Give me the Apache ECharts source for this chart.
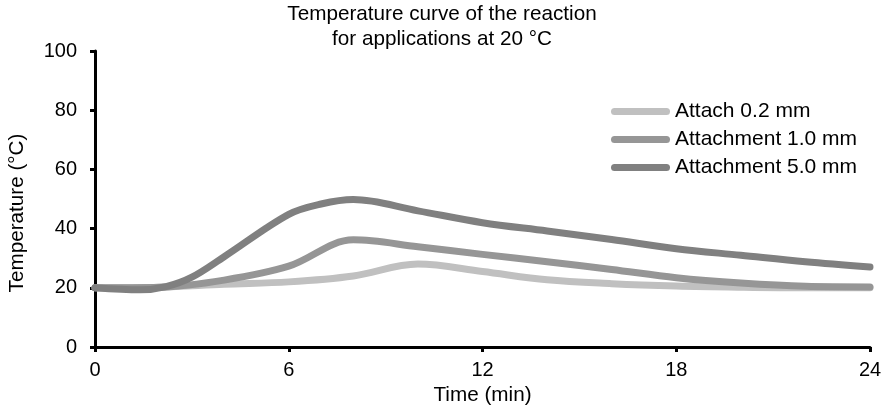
<!DOCTYPE html>
<html>
<head>
<meta charset="utf-8">
<script src="https://cdn.jsdelivr.net/npm/echarts@6/dist/echarts.min.js"></script>
<style>
html,body{margin:0;padding:0;background:#fff;}
#chart{width:881px;height:409px;}
</style>
</head>
<body>
<div id="chart"></div>
<script>
var titleText = 'Temperature curve of the reaction\nfor applications at 20 °C';
var xName = 'Time (min)';
var yName = 'Temperature (°C)';
var seriesNames = ['Attach 0.2 mm', 'Attachment 1.0 mm', 'Attachment 5.0 mm'];
var times02 = [0, 2, 4, 6, 8, 10, 12, 14, 16, 18, 20, 22, 24];
var temp02 = [20, 20.2, 21.2, 22, 24, 28, 25.5, 22.7, 21.4, 20.6, 20.2, 20, 20];
var times10 = [0, 2, 4, 6, 8, 10, 12, 14, 16, 18, 20, 22, 24];
var temp10 = [20, 20.2, 22.6, 27.3, 36.2, 33.9, 31.3, 28.8, 26.2, 23.4, 21.6, 20.5, 20.3];
var times50 = [0, 1.4, 2.2, 3, 4, 6, 7, 8, 10, 12, 14, 16, 18, 20, 22, 24];
var temp50 = [20, 19.3, 20.4, 23.6, 30.5, 44.8, 48.3, 49.8, 46, 42, 39.2, 36.3, 33.2, 31, 28.8, 27];
var xTicks = [0, 6, 12, 18, 24];
var yTicks = [0, 20, 40, 60, 80, 100];

function pairs(xs, ys) { return xs.map(function (x, i) { return [x, ys[i]]; }); }

var FONT = '"Liberation Sans", Arial, sans-serif';
var colors = ['#c0c0c0', '#969696', '#808080'];
var capsule = 'path://M3.5,0 H55.5 A3.5,3.5 0 0 1 55.5,7 H3.5 A3.5,3.5 0 0 1 3.5,0 Z';

var chart = echarts.init(document.getElementById('chart'));
var allTimes = [times02, times10, times50];
var allData = [temp02, temp10, temp50];
chart.setOption({
  animation: false,
  backgroundColor: '#fff',
  title: {
    text: titleText,
    left: 442,
    textAlign: 'center',
    top: 2,
    padding: 0,
    textStyle: { fontFamily: FONT, fontSize: 20.7, fontWeight: 'normal', color: '#000', lineHeight: 25 }
  },
  legend: {
    orient: 'vertical',
    left: 611,
    top: 101,
    padding: 0,
    itemWidth: 59,
    itemHeight: 7,
    itemGap: 7,
    icon: capsule,
    data: seriesNames,
    textStyle: { fontFamily: FONT, fontSize: 21, color: '#000', lineHeight: 21 }
  },
  grid: { left: 95, right: 11, top: 51, bottom: 62, outerBoundsMode: 'none' },
  xAxis: {
    type: 'value',
    min: xTicks[0],
    max: xTicks[xTicks.length - 1],
    interval: 6,
    name: xName,
    nameLocation: 'middle',
    nameGap: 36,
    nameTextStyle: { fontFamily: FONT, fontSize: 20.7, color: '#000' },
    axisLine: { show: true, lineStyle: { color: '#000', width: 3 } },
    axisTick: { show: true, length: 5, lineStyle: { color: '#000', width: 3 } },
    axisLabel: { fontFamily: FONT, fontSize: 20, color: '#000', margin: 13 },
    splitLine: { show: false }
  },
  yAxis: {
    type: 'value',
    min: yTicks[0],
    max: yTicks[yTicks.length - 1],
    interval: 20,
    axisLine: { show: true, lineStyle: { color: '#000', width: 3 } },
    axisTick: { show: true, length: 5, lineStyle: { color: '#000', width: 3 } },
    axisLabel: { fontFamily: FONT, fontSize: 20, color: '#000', margin: 18 },
    splitLine: { show: false }
  },
  graphic: [{
    type: 'text',
    x: 17,
    y: 213,
    rotation: Math.PI / 2,
    style: {
      text: yName,
      fontFamily: FONT,
      fontSize: 20.7,
      fill: '#000',
      align: 'center',
      verticalAlign: 'middle'
    }
  }],
  series: seriesNames.map(function (n, i) {
    return {
      name: n,
      type: 'line',
      data: pairs(allTimes[i], allData[i]),
      smooth: 0.35,
      symbol: 'none',
      color: colors[i],
      lineStyle: { color: colors[i], width: 7, cap: 'round', join: 'round' },
      z: 2 + i
    };
  })
});
</script>
</body>
</html>
